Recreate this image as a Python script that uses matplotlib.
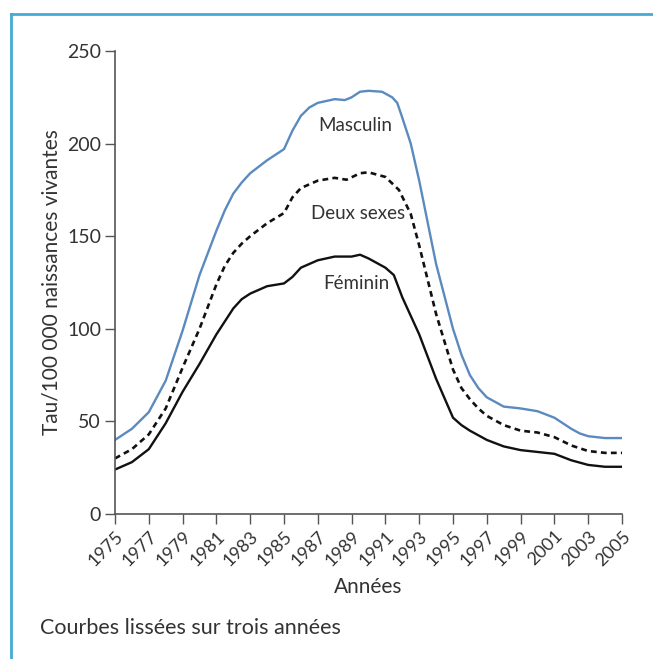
import matplotlib.pyplot as plt
from matplotlib.lines import Line2D

plt.rcParams['font.family'] = ['Lato', 'DejaVu Sans']

# years (some half-year points to keep the kinks of the smoothed curves)
years_m = [1975, 1976, 1977, 1978, 1979, 1980, 1981, 1981.5, 1982, 1982.5, 1983, 1984,
           1985, 1985.5, 1986, 1986.5, 1987, 1988, 1988.6, 1989, 1989.5, 1990, 1990.8,
           1991.4, 1991.7, 1992, 1992.5, 1993, 1994, 1995, 1995.5, 1996, 1996.5, 1997,
           1998, 1999, 2000, 2001, 2002, 2002.5, 2003, 2004, 2005]
masculin = [40, 46, 55, 72, 99, 129, 153, 164, 173, 179, 184, 191,
            197, 207, 215, 219.5, 222, 224, 223.5, 225, 228, 228.5, 228,
            225, 222, 214, 200, 180, 135, 100, 86, 75, 68, 63,
            58, 57, 55.5, 52, 46, 43.5, 42, 41, 41]

years_d = [1975, 1976, 1977, 1978, 1979, 1980, 1981, 1981.5, 1982, 1982.5, 1983, 1984,
           1985, 1985.5, 1986, 1987, 1988, 1988.7, 1989.5, 1990, 1991, 1991.8, 1992.5,
           1993, 1994, 1995, 1995.5, 1996, 1996.5, 1997, 1998, 1999, 2000, 2001, 2002,
           2003, 2004, 2005]
deux_sexes = [30, 35, 43, 57, 79, 100, 124, 134, 141, 146, 150, 157,
              162.5, 171, 176, 180, 181.5, 180.5, 184, 184.5, 182, 175, 162,
              145, 108, 78, 68, 62, 57, 53, 48, 45, 44, 41.5, 37,
              34, 33, 33]

years_f = [1975, 1976, 1977, 1978, 1979, 1980, 1981, 1982, 1982.5, 1983, 1984, 1985,
           1985.5, 1986, 1987, 1988, 1989, 1989.5, 1990, 1991, 1991.5, 1992, 1993,
           1994, 1995, 1995.5, 1996, 1997, 1998, 1999, 2000, 2001, 2002, 2003, 2004,
           2005]
feminin = [24, 28, 35, 49, 66, 81, 97, 111, 116, 119, 123, 124.5,
           128, 133, 137, 139, 139, 140, 138, 133, 129, 117, 97,
           73, 52, 48, 45, 40, 36.5, 34.5, 33.5, 32.5, 29, 26.5, 25.5,
           25.5]

xticks = list(range(1975, 2006, 2))
yticks = [0, 50, 100, 150, 200, 250]

txt = '#333333'
fig = plt.figure(figsize=(6.53, 6.59), dpi=100)
ax = fig.add_axes([115/653, 1 - 514/659, (622 - 115)/653, (514 - 51)/659])

ax.plot(years_m, masculin, color='#5b8abf', lw=1.7, solid_joinstyle='round')
ax.plot(years_d, deux_sexes, color='#111111', lw=1.9, ls=(0, (2.2, 1.6)))
ax.plot(years_f, feminin, color='#111111', lw=1.7, solid_joinstyle='round')

ax.text(1989.2, 210, 'Masculin', ha='center', va='center', fontsize=13.5, color=txt)
ax.text(1989.4, 162, 'Deux sexes', ha='center', va='center', fontsize=13.5, color=txt)
ax.text(1989.3, 124.5, 'Féminin', ha='center', va='center', fontsize=13.5, color=txt)

ax.set_xlim(1975, 2005)
ax.set_ylim(0, 250)
ax.set_xticks(xticks)
ax.set_xticklabels([str(y) for y in xticks], rotation=45, ha='right',
                   rotation_mode='anchor', fontsize=13, color=txt)
ax.set_yticks(yticks)
ax.set_yticklabels([str(v) for v in yticks], fontsize=14, color=txt)
ax.tick_params(direction='out', length=7, width=1, color='#555555', pad=3)
for s in ['top', 'right']:
    ax.spines[s].set_visible(False)
for s in ['left', 'bottom']:
    ax.spines[s].set_color('#555555')
    ax.spines[s].set_linewidth(1.2)

ax.set_xlabel('Années', fontsize=15, color=txt, labelpad=6)
ax.set_ylabel('Tau/100 000 naissances vivantes', fontsize=15, color=txt, labelpad=4)

fig.text(40/653, 1 - 628/659, 'Courbes lissées sur trois années', fontsize=15.5,
         color=txt, ha='left', va='center')

# blue frame around the figure
fig.add_artist(Line2D([11/653, 11/653], [0, 1 - 14/659], transform=fig.transFigure,
                      color='#45a9d6', lw=2))
fig.add_artist(Line2D([11/653, 1], [1 - 14/659, 1 - 14/659], transform=fig.transFigure,
                      color='#45a9d6', lw=2))

fig.savefig('out.png', dpi=100)
